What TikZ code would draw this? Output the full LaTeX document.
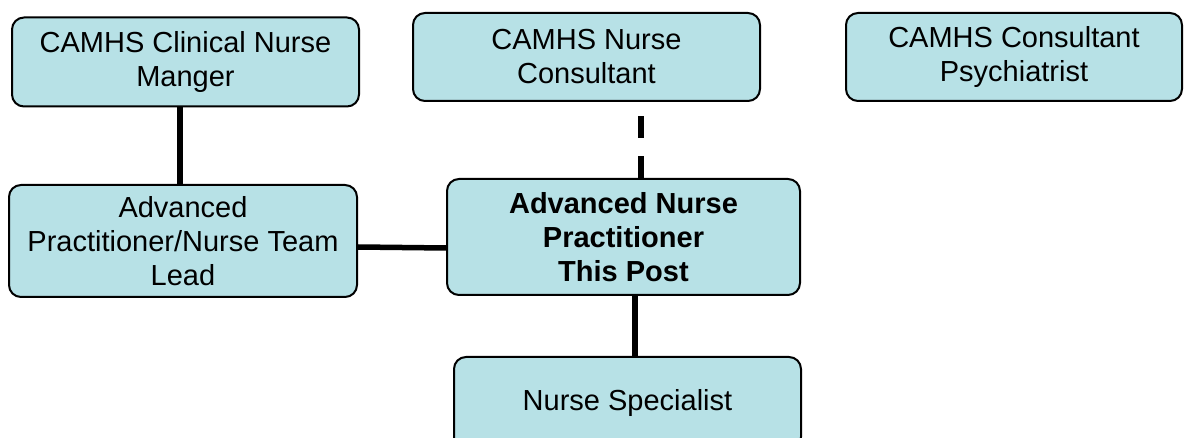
\documentclass[tikz,border=0pt]{standalone}
\usepackage{fontspec}
\setmainfont{Liberation Sans}
\definecolor{boxblue}{RGB}{183,225,230}
\tikzset{
    post/.style={draw=black,line width=1pt,fill=boxblue,rounded corners=6pt,align=center,inner sep=0pt,
        font=\fontsize{14.5}{17}\selectfont},
    link/.style={line width=2.75pt},
    dotted link/.style={link,dash pattern=on 11pt off 9pt},
}
\begin{document}
\begin{tikzpicture}[x=0.5pt,y=-0.5pt]
\useasboundingbox (0,0) rectangle (1185,438);
\node[post,minimum width=173.5pt,minimum height=44.5pt] (mgr) at (185.5,62) {CAMHS Clinical Nurse\\Manger};
\node[post,minimum width=173.5pt,minimum height=44pt] (nc) at (586.5,57) {CAMHS Nurse\\Consultant};
\node[post,minimum width=168pt,minimum height=44pt] (psy) at (1014,57) {CAMHS Consultant\\Psychiatrist};
\node[post,minimum width=174pt,minimum height=56pt] (lead) at (183,241) {Advanced\\Practitioner/Nurse Team\\Lead};
\node[post,minimum width=176.5pt,minimum height=58pt,font=\fontsize{14.5}{17}\selectfont\bfseries] (anp) at (623.5,237) {Advanced Nurse\\Practitioner\\This Post};
\node[post,minimum width=173.5pt,minimum height=46pt] (ns) at (627.5,403) {Nurse Specialist};
\draw[link] ([xshift=-1.5pt]lead.north |- mgr.south) -- ([xshift=-1.5pt]lead.north);
\draw[link] ([yshift=-3pt]lead.east) -- ([yshift=-5.5pt]anp.west);
\draw[dotted link] ([xshift=8.75pt]anp.north) -- ([xshift=8.75pt]anp.north |- nc.south);
\draw[link] ([xshift=5.75pt]anp.south) -- ([xshift=5.75pt]anp.south |- ns.north);
\end{tikzpicture}
\end{document}
